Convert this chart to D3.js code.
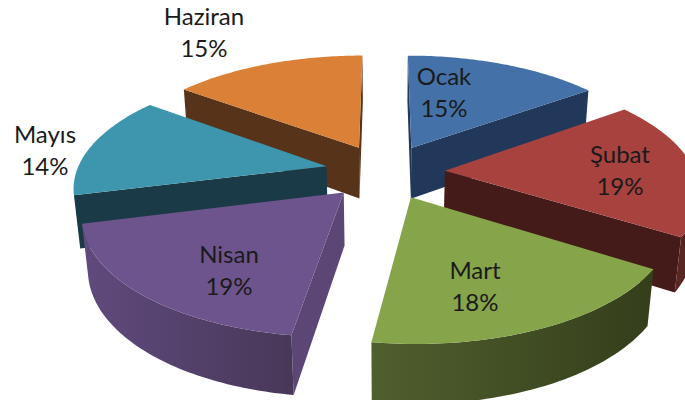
<!DOCTYPE html>
<html lang="tr">
<head>
<meta charset="utf-8">
<style>
html,body{margin:0;padding:0;background:#fff;overflow:hidden}
svg{display:block}
text{font-family:Lato,"Noto Sans",sans-serif;fill:#1a1a1a;font-size:24px;text-anchor:middle}
</style>
<script src="https://cdn.jsdelivr.net/npm/d3@7/dist/d3.min.js"></script>
</head>
<body>
<svg id="c" width="685" height="400"></svg>
<script>
// Data (labels show the rounded percentage)
const months = ["Ocak","Şubat","Mart","Nisan","Mayıs","Haziran"];
const shares = [15,19,18.3,18.7,14.2,14.8];

// Styles
const topColors  = ["#4472A8","#A8423F","#86A44A","#6E548D","#3D96AE","#DA8137"];
const wallColors = ["#22385A","#441B18","#36401D","#5B4675","#1B3A47","#57331A"];
const rimLight   = ["#2B4668","#5A2624","#505F2E","#604A7E","#24505E","#6E4120"];
const rimDark    = ["#22385A","#441B18","#343E1B","#483858","#1B3A47","#57331A"];

// Layout: label centres (name row), camera and explosion
const labelCentres = [[444,77],[620,155],[475,271],[229,255],[45,135],[204,17]];
const CX=385, CY=171.5, RX=250, RY=114, DEPTH=53, TILT=0.16, SQUEEZE=0.02, EXPLODE=0.24;

function project(x,y,z){
  const w = 1 - TILT*y + SQUEEZE*z;
  return [CX + RX*x/w, CY + (RY*y + DEPTH*z)/w];
}
const pie = d3.pie().sort(null).startAngle(0).endAngle(2*Math.PI);
const arcs = pie(shares);
const line = d3.line();
const svg = d3.select("#c");
const defs = svg.append("defs");

const polar = (a,r,mid)=>[r*Math.sin(a)+EXPLODE*Math.sin(mid), -r*Math.cos(a)-EXPLODE*Math.cos(mid)];
const area = q => d3.polygonArea(q);

const slices = arcs.map((d,i)=>{
  const mid=(d.startAngle+d.endAngle)/2;
  const n=60;
  const angs=d3.range(n+1).map(k=>d.startAngle+(d.endAngle-d.startAngle)*k/n);
  const apexP=polar(0,0,mid);
  const disc=angs.map(a=>polar(a,1,mid));
  const top=disc.map(p=>project(p[0],p[1],0));
  const bot=disc.map(p=>project(p[0],p[1],1));
  const apexT=project(apexP[0],apexP[1],0), apexB=project(apexP[0],apexP[1],1);
  return {i,mid,top,bot,apexT,apexB,depthKey:apexT[1]};
}).sort((a,b)=>a.depthKey-b.depthKey);

slices.forEach(s=>{
  const g=svg.append("g").attr("class","slice");
  const {i,top,bot,apexT,apexB}=s;
  const n=top.length-1;
  const startWall=[apexT,top[0],bot[0],apexB];
  const endWall=[top[n],apexT,apexB,bot[n]];
  [startWall,endWall].filter(q=>area(q)>0)
    .forEach(q=>g.append("path").attr("d",line(q)+"Z").attr("fill",wallColors[i]));
  const vis=d3.range(n).filter(k=>area([top[k],top[k+1],bot[k+1],bot[k]])>0);
  if(vis.length){
    const a=vis[0], b=vis[vis.length-1]+1;
    const upper=top.slice(a,b+1), lower=bot.slice(a,b+1).reverse();
    const xs=upper.map(p=>p[0]);
    const id="rim"+i;
    const gr=defs.append("linearGradient").attr("id",id).attr("gradientUnits","userSpaceOnUse")
      .attr("x1",d3.min(xs)).attr("x2",d3.max(xs)).attr("y1",0).attr("y2",0);
    gr.append("stop").attr("offset",0).attr("stop-color",rimLight[i]);
    gr.append("stop").attr("offset",1).attr("stop-color",rimDark[i]);
    g.append("path").attr("d",line(upper.concat(lower))+"Z").attr("fill",`url(#${id})`);
  }
  g.append("path").attr("d",line([apexT].concat(top))+"Z").attr("fill",topColors[i]);
});

// Labels
months.forEach((m,i)=>{
  const [x,y]=labelCentres[i];
  const t=svg.append("text").attr("x",x).attr("y",y);
  t.append("tspan").attr("x",x).attr("dy","0.35em").text(m);
  t.append("tspan").attr("x",x).attr("dy","32").text(Math.round(shares[i])+"%");
});
</script>
</body>
</html>
